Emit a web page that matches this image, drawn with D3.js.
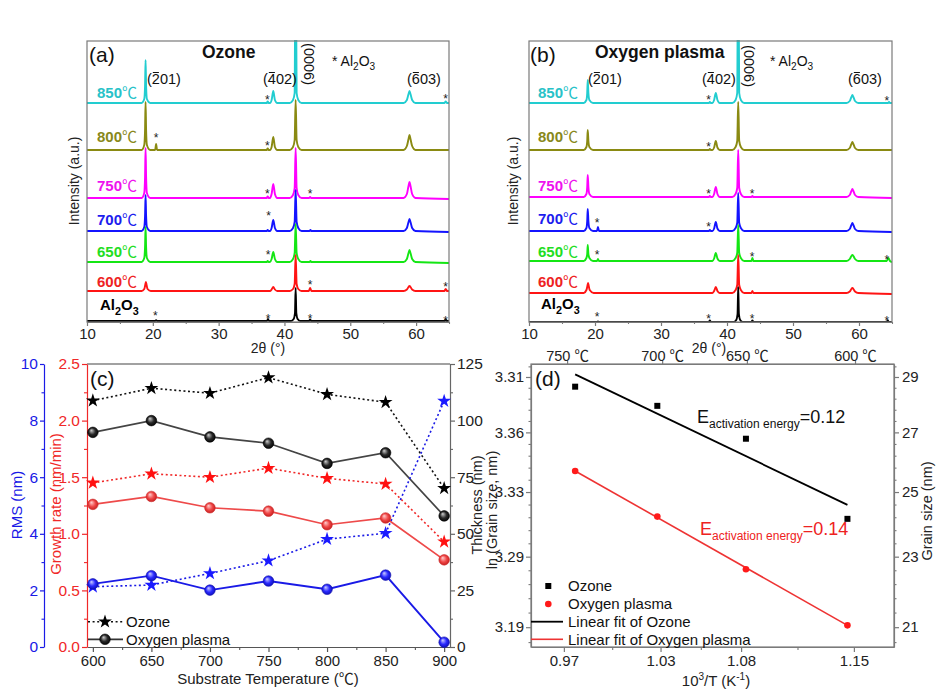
<!DOCTYPE html>
<html><head><meta charset="utf-8">
<script src="https://cdn.jsdelivr.net/npm/d3@7"></script>
<style>
body{margin:0;background:#fff}
svg{display:block}
text{font-family:Arial,"Liberation Sans","Noto Sans CJK SC",sans-serif}
</style>
</head><body>
<svg id="fig" width="945" height="699"></svg>
<script>
// ---------------- DATA ----------------
const sampleNames = ["Al2O3","600℃","650℃","700℃","750℃","800℃","850℃"];
const sampleColors = ["#000000","#ff1414","#14e614","#1414ff","#ff00ff","#8a8a12","#22cdd0"];
const labelColors  = ["#000000","#ee2222","#22dd22","#1c1cee","#ee11ee","#88881a","#28c2c8"];
const xrdTicks = [10,20,30,40,50,60];
const xrdMinor = [15,25,35,45,55,65];
const ozoneOffsets  = [1,31,60,91,124,172,219];
const plasmaOffsets = [0,29,61,91,125,172,219];

// Ozone XRD patterns: [2theta, intensity a.u.]
const OZ_AL  = [[10,0],[20.35,0],[20.5,0.8],[20.65,0],[37.35,0],[37.5,2],[37.65,0],[41.0,0],[41.4,2],[41.6,8],[41.7,33],[41.8,8],[42.0,2],[42.4,0],[43.75,0],[43.9,1.5],[44.05,0],[64.35,0],[64.5,1.5],[64.65,0],[65,0]];
const OZ_600 = [[10,0],[18.3,0],[18.7,2],[18.85,6],[18.95,9],[19.05,6],[19.2,2],[19.7,0],[37.8,0],[38.05,1.5],[38.3,4],[38.55,1.5],[38.9,0],[40.8,0],[41.3,2],[41.55,7],[41.7,36],[41.85,7],[42.1,2],[42.6,0],[43.7,0],[43.9,3],[44.1,0],[58.1,0],[58.6,1.5],[59.0,5],[59.4,1.5],[59.9,0],[64.3,0],[64.5,2],[64.7,0],[65,0]];
const OZ_650 = [[10,0],[18.3,0],[18.7,4],[18.82,15],[18.9,35],[18.98,15],[19.1,4],[19.6,0],[37.3,0],[37.45,1],[37.6,0],[37.8,0],[38.05,3],[38.3,10],[38.55,3],[38.9,0],[40.8,0],[41.3,3],[41.55,9],[41.7,38],[41.85,9],[42.1,3],[42.6,0],[43.8,0],[43.95,1],[44.1,0],[58.1,0],[58.6,3],[58.85,9],[59.0,12],[59.15,9],[59.4,3],[59.9,0],[65,-1]];
const OZ_700 = [[10,0],[18.3,0],[18.7,4],[18.82,15],[18.9,36],[18.98,15],[19.1,4],[19.6,0],[37.3,0],[37.45,1],[37.6,0],[37.8,0],[38.05,3],[38.3,11],[38.55,3],[38.9,0],[40.8,0],[41.3,3],[41.55,9],[41.7,41],[41.85,9],[42.1,3],[42.6,0],[43.8,0],[43.95,1],[44.1,0],[58.1,0],[58.6,3],[58.85,9],[59.0,12],[59.15,9],[59.4,3],[59.9,0],[65,-1]];
const OZ_750 = [[10,0],[18.3,0],[18.7,5],[18.82,21],[18.9,50],[18.98,21],[19.1,5],[19.6,0],[37.3,0],[37.45,1.5],[37.6,0],[37.8,0],[38.05,4],[38.3,14],[38.55,4],[38.9,0],[40.8,0],[41.3,3],[41.55,10],[41.7,50],[41.85,10],[42.1,3],[42.6,0],[43.75,0],[43.9,1],[44.05,0],[58.1,0],[58.6,4],[58.85,12],[59.0,16],[59.15,12],[59.4,4],[59.9,0],[65,-1]];
const OZ_800 = [[10,0],[18.3,0],[18.7,5],[18.82,20],[18.9,48],[18.98,20],[19.1,5],[19.6,0],[20.35,0],[20.5,6],[20.65,0],[37.3,0],[37.45,1.5],[37.6,0],[37.8,0],[38.05,3],[38.3,13],[38.55,3],[38.9,0],[40.8,0],[41.3,3],[41.55,10],[41.7,50],[41.85,10],[42.1,3],[42.6,0],[58.1,0],[58.6,4],[58.85,11],[59.0,15],[59.15,11],[59.4,4],[59.9,0],[65,0]];
const OZ_850 = [[10,0],[18.3,0],[18.7,4],[18.82,17],[18.9,43],[18.98,17],[19.1,4],[19.6,0],[37.3,0],[37.45,1.5],[37.6,0],[37.8,0],[38.05,3],[38.3,12],[38.55,3],[38.9,0],[40.8,0],[41.3,3],[41.55,10],[41.65,120],[41.75,120],[41.85,10],[42.1,3],[42.6,0],[58.1,0],[58.6,3],[58.85,9],[59.0,12],[59.15,9],[59.4,3],[59.9,0],[64.3,0],[64.5,1.5],[64.7,0],[65,0]];

// Oxygen plasma XRD patterns
const PL_AL  = [[10,0],[20.3,0],[20.45,0.6],[20.6,0],[37.25,0],[37.4,1.5],[37.55,0],[41.0,0],[41.4,2],[41.6,8],[41.7,35],[41.8,8],[42.0,2],[42.4,0],[43.7,0],[43.85,1.5],[44.0,0],[64.2,0],[64.35,1.5],[64.5,0],[65,0]];
const PL_600 = [[10,0],[18.3,0],[18.7,3],[18.85,7],[18.95,10],[19.05,7],[19.2,3],[19.8,0],[37.8,0],[38.05,2],[38.3,6],[38.55,2],[38.9,0],[40.8,0],[41.3,3],[41.55,8],[41.7,38],[41.85,8],[42.1,3],[42.6,0],[43.7,0],[43.85,2],[44.0,0],[58.1,0],[58.6,1.5],[58.85,4],[59.0,5],[59.15,4],[59.4,1.5],[59.9,0],[65,-1]];
const PL_650 = [[10,0],[18.3,0],[18.7,3],[18.82,7],[18.9,16],[19.0,7],[19.15,3],[19.7,0],[20.3,0],[20.45,2],[20.6,0],[37.8,0],[38.05,2.5],[38.3,8],[38.55,2.5],[38.9,0],[40.8,0],[41.3,3],[41.55,8],[41.7,36],[41.85,8],[42.1,3],[42.6,0],[43.7,0],[43.85,3],[44.0,0],[58.1,0],[58.6,2],[58.85,5],[59.0,6],[59.15,5],[59.4,2],[59.9,0],[64.2,0],[64.45,3],[64.7,0],[65,-1]];
const PL_700 = [[10,0],[18.3,0],[18.7,3],[18.82,10],[18.9,22],[19.0,10],[19.15,3],[19.7,0],[20.3,0],[20.45,4],[20.6,0],[37.25,0],[37.4,1],[37.55,0],[37.8,0],[38.05,2.5],[38.3,9],[38.55,2.5],[38.9,0],[40.8,0],[41.3,3],[41.55,8],[41.7,38],[41.85,8],[42.1,3],[42.6,0],[58.1,0],[58.6,2],[58.85,6],[59.0,8],[59.15,6],[59.4,2],[59.9,0],[65,-1]];
const PL_750 = [[10,0],[18.3,0],[18.7,3],[18.82,10],[18.9,22],[19.0,10],[19.15,3],[19.7,0],[37.25,0],[37.4,1],[37.55,0],[37.8,0],[38.05,3],[38.3,10],[38.55,3],[38.9,0],[40.8,0],[41.3,3],[41.55,9],[41.7,47],[41.85,9],[42.1,3],[42.6,0],[43.7,0],[43.85,1],[44.0,0],[58.1,0],[58.6,2],[58.85,6],[59.0,8],[59.15,6],[59.4,2],[59.9,0],[65,-1]];
const PL_800 = [[10,0],[18.3,0],[18.7,3],[18.82,9],[18.9,20],[19.0,9],[19.15,3],[19.7,0],[37.25,0],[37.4,1],[37.55,0],[37.8,0],[38.05,2.5],[38.3,9],[38.55,2.5],[38.9,0],[40.8,0],[41.3,3],[41.55,9],[41.7,48],[41.85,9],[42.1,3],[42.6,0],[58.1,0],[58.6,2],[58.85,6],[59.0,8],[59.15,6],[59.4,2],[59.9,0],[65,0]];
const PL_850 = [[10,0],[18.3,0],[18.7,3],[18.82,10],[18.9,23],[19.0,10],[19.15,3],[19.7,0],[37.25,0],[37.4,1],[37.55,0],[37.8,0],[38.05,3],[38.3,10],[38.55,3],[38.9,0],[40.8,0],[41.3,3],[41.55,10],[41.65,120],[41.75,120],[41.85,10],[42.1,3],[42.6,0],[58.1,0],[58.6,2],[58.85,6],[59.0,8],[59.15,6],[59.4,2],[59.9,0],[64.4,0],[64.55,1],[64.7,0],[65,0]];

// Al2O3 substrate marks "*": [2theta, level]
const ozoneStars  = [[37.4,224.7],[64.5,226.3],[20.5,187],[37.4,178.7],[37.4,131.3],[43.9,131.3],[37.6,108.7],[37.5,70.3],[43.9,40.3],[64.5,38],[20.4,8.7],[37.5,6.3],[43.9,6.3],[64.5,4.3]];
const plasmaStars = [[37.2,224.7],[64.2,224.3],[37.2,178],[37.2,131],[43.8,131],[20.3,102],[37.2,98],[20.3,70.3],[43.8,68],[64.2,64.7],[20.3,8],[37.2,6.3],[43.8,6.3],[64.2,4.3]];

// Panel (c)
const temps = [600,650,700,750,800,850,900];
const tempTicks = [600,650,700,750,800,850,900];
const thickOzone  = [108.8,114.3,112.1,119.0,111.6,108.1,70.1];
const thickPlasma = [94.8,100.0,92.8,90.0,81.1,85.8,57.9];
const rateOzone   = [1.45,1.53,1.50,1.58,1.49,1.44,0.93];
const ratePlasma  = [1.26,1.33,1.23,1.20,1.08,1.14,0.77];
const rmsOzone    = [2.13,2.19,2.60,3.05,3.81,4.02,8.69];
const rmsPlasma   = [2.23,2.52,2.01,2.33,2.04,2.54,0.17];
const rateTicks = [0,0.5,1.0,1.5,2.0,2.5];
const rmsTicks = [0,2,4,6,8,10];
const thickTicks = [0,25,50,75,100,125];

// Panel (d)
const invT = [0.977,1.028,1.083,1.146];
const grainOzone  = [28.64,27.94,26.78,24.15];
const grainPlasma = [25.69,24.22,22.63,21.05];
const fitX = [0.977,1.146];
const fitOzone  = [29.10,24.59];
const fitPlasma = [25.69,21.05];
const activation = ["0.12","0.14"];
const invTTicks = [0.97,1.03,1.08,1.15];
const invTMinor = [1.0,1.055,1.115];
const topTickVals = [0.972,1.031,1.0836,1.1507];
const topTickLabels = ["750 ℃","700 ℃","650 ℃","600 ℃"];
const grainTicks = [21,23,25,27,29];
const lnLabels = ["3.19","3.29","3.33","3.36","3.31"];

// ---------------- DRAW ----------------
const svg = d3.select("#fig");
const defs = svg.append("defs");
const FRAME = "#7a7a7a";
const CJK = "'Noto Sans CJK SC','Noto Sans CJK JP',sans-serif";

function cjkify(sel){
  sel.each(function(){
    const t = d3.select(this);
    const s = t.text();
    if (!s.includes("℃")) return;
    t.text(null);
    s.split(/(℃)/).forEach(p => {
      if (!p) return;
      const ts = t.append("tspan").text(p);
      if (p === "℃") ts.style("font-family", CJK).style("font-weight","normal");
    });
  });
}

function styleAxis(g, color, fs){
  g.attr("font-family", null).attr("font-size", null);
  g.selectAll("path.domain").attr("stroke", color).attr("stroke-width", 1.2);
  g.selectAll(".tick line").attr("stroke", color).attr("stroke-width", 1.2);
  g.selectAll(".tick text").attr("fill", color).style("font-size", fs + "px");
  return g;
}
function minorAxis(g, axis, color){
  g.call(axis.tickFormat(""));
  g.select("path.domain").remove();
  g.selectAll(".tick line").attr("stroke", color).attr("stroke-width", 1.1);
}

function miller(x, y, txt, barIdx){
  const t = svg.append("text").attr("x", x).attr("y", y).style("font-size","14.5px").attr("fill","#111").text(txt);
  const b = t.node().getExtentOfChar(barIdx);
  svg.append("line").attr("x1", b.x + 1).attr("x2", b.x + b.width - 1)
    .attr("y1", b.y + 1.5).attr("y2", b.y + 1.5).attr("stroke","#111").attr("stroke-width",1);
}

function subLabel(x, y, parts, opts){
  const t = svg.append("text").attr("x", x).attr("y", y).attr("fill", opts.color)
    .style("font-size", opts.fs + "px").style("font-weight", opts.bold ? "bold" : "normal");
  parts.forEach(p => {
    const s = t.append("tspan").text(p[0]);
    if (p[1] === "sub") s.attr("dy", opts.fs*0.3).style("font-size", (opts.fs*0.72)+"px");
    else if (p[1] === "back") s.attr("dy", -opts.fs*0.3);
  });
  return t;
}

function xrdPanel(box, curves, offsets, stars, lab, tag){
  const x = d3.scaleLinear().domain([10,65]).range([box.x0, box.x1]);
  const y = d3.scaleLinear().domain([0,281]).range([box.y1, box.y0]);
  defs.append("clipPath").attr("id","clip"+tag).append("rect")
    .attr("x", box.x0).attr("y", box.y0 - 1).attr("width", box.x1 - box.x0).attr("height", box.y1 - box.y0 + 1);
  for (let i = curves.length - 1; i >= 0; i--){
    const line = d3.line().x(d => x(d[0])).y(d => y(d[1] + offsets[i])).curve(d3.curveMonotoneX);
    svg.append("path").attr("clip-path","url(#clip"+tag+")").attr("d", line(curves[i]))
      .attr("fill","none").attr("stroke", sampleColors[i]).attr("stroke-width", 1.9).attr("stroke-linejoin","round");
  }
  svg.append("rect").attr("x", box.x0).attr("y", box.y0).attr("width", box.x1 - box.x0).attr("height", box.y1 - box.y0)
    .attr("fill","none").attr("stroke", FRAME).attr("stroke-width", 1.2);
  const gx = svg.append("g").attr("transform", `translate(0,${box.y1})`)
    .call(d3.axisBottom(x).tickValues(xrdTicks).tickSize(4).tickSizeOuter(0).tickPadding(2));
  styleAxis(gx, "#222", 15); gx.select("path.domain").attr("stroke", FRAME);
  gx.selectAll(".tick line").attr("stroke", FRAME);
  const gm = svg.append("g").attr("transform", `translate(0,${box.y1})`);
  minorAxis(gm, d3.axisBottom(x).tickValues(xrdMinor).tickSize(2), FRAME);
  stars.forEach(s => {
    svg.append("text").attr("x", x(s[0])).attr("y", y(s[1]) + 7).attr("text-anchor","middle")
      .style("font-size","12px").attr("fill","#222").text("*");
  });
  sampleNames.forEach((n, i) => {
    if (i === 0) {
      subLabel(lab.alx, lab.ys[0], [["Al"],["2","sub"],["O","back"],["3","sub"]], {color:"#000", fs:15, bold:true});
    } else {
      svg.append("text").attr("x", lab.x).attr("y", lab.ys[i]).attr("fill", labelColors[i])
        .style("font-size","15px").style("font-weight","bold").text(n).call(cjkify);
    }
  });
  svg.append("text").attr("transform", `translate(${lab.ytx},${181}) rotate(-90)`).attr("text-anchor","middle")
    .style("font-size","14px").attr("fill","#222").text("Intensity (a.u.)");
  svg.append("text").attr("x", lab.xtx).attr("y", 353).attr("text-anchor","middle")
    .style("font-size","14px").attr("fill","#222").text("2θ (°)");
  return {x, y};
}

// Panel (a)
const A = {x0:87, x1:449, y0:41, y1:322};
xrdPanel(A, [OZ_AL,OZ_600,OZ_650,OZ_700,OZ_750,OZ_800,OZ_850], ozoneOffsets, ozoneStars,
  {x:97, alx:100, ys:[310,286.7,257.3,225,190.7,141.7,98.3], ytx:79, xtx:268}, "a");
svg.append("text").attr("x",89).attr("y",62).style("font-size","21px").attr("fill","#111").text("(a)");
svg.append("text").attr("x",202).attr("y",58).style("font-size","17.5px").style("font-weight","bold").attr("fill","#111").text("Ozone");
subLabel(332, 66, [["* Al"],["2","sub"],["O","back"],["3","sub"]], {color:"#111", fs:14, bold:false});
miller(147, 84, "(201)", 1);
miller(263, 84, "(402)", 1);
miller(407, 84, "(603)", 1);
svg.append("text").attr("transform","translate(309,64) rotate(90)").attr("text-anchor","middle")
  .attr("dominant-baseline","central").style("font-size","14.5px").attr("fill","#111").text("(0006)");

// Panel (b)
const B = {x0:529, x1:892, y0:41, y1:322};
xrdPanel(B, [PL_AL,PL_600,PL_650,PL_700,PL_750,PL_800,PL_850], plasmaOffsets, plasmaStars,
  {x:538, alx:541, ys:[309.3,286.7,257.3,224.3,190.7,141.7,98.3], ytx:518, xtx:709}, "b");
svg.append("text").attr("x",530).attr("y",62).style("font-size","21px").attr("fill","#111").text("(b)");
svg.append("text").attr("x",595).attr("y",58).style("font-size","17.5px").style("font-weight","bold").attr("fill","#111").text("Oxygen plasma");
subLabel(770, 66, [["* Al"],["2","sub"],["O","back"],["3","sub"]], {color:"#111", fs:14, bold:false});
miller(588, 84, "(201)", 1);
miller(702, 84, "(402)", 1);
miller(848, 84, "(603)", 1);
svg.append("text").attr("transform","translate(749,66) rotate(90)").attr("text-anchor","middle")
  .attr("dominant-baseline","central").style("font-size","14.5px").attr("fill","#111").text("(0006)");

// Panel (c)
const C = {x0:87, x1:450, y0:364, y1:647};
const xC = d3.scaleLinear().domain([595,905]).range([C.x0, C.x1]);
const yRate = d3.scaleLinear().domain([0,2.5]).range([C.y1, C.y0]);
const yRMS = d3.scaleLinear().domain([0,10]).range([C.y1, C.y0]);
const yThk = d3.scaleLinear().domain([0,125]).range([C.y1, C.y0]);
const RED = "#f02828", BLUE = "#1a1ae6";

function sphereGrad(id, c0, c1, c2){
  const g = defs.append("radialGradient").attr("id", id).attr("cx","50%").attr("cy","50%").attr("r","55%").attr("fx","35%").attr("fy","30%");
  g.append("stop").attr("offset","0%").attr("stop-color", c0);
  g.append("stop").attr("offset","55%").attr("stop-color", c1);
  g.append("stop").attr("offset","100%").attr("stop-color", c2);
}
sphereGrad("gk","#d0d0d0","#2a2a2a","#000");
sphereGrad("gr","#ffd0d0","#f04848","#c01818");
sphereGrad("gb","#d0d0ff","#2a2aff","#0c0cb0");

svg.append("line").attr("x1",C.x0).attr("x2",C.x1).attr("y1",C.y0).attr("y2",C.y0).attr("stroke","#444").attr("stroke-width",1.2);
let g;
g = svg.append("g").attr("transform",`translate(0,${C.y1})`).call(d3.axisBottom(xC).tickValues(tempTicks).tickSize(5).tickSizeOuter(0).tickPadding(3));
styleAxis(g, "#222", 15); g.select("path.domain").attr("stroke","#555"); g.selectAll(".tick line").attr("stroke","#555");
minorAxis(svg.append("g").attr("transform",`translate(0,${C.y1})`), d3.axisBottom(xC).tickValues([625,675,725,775,825,875]).tickSize(3), "#555");

g = svg.append("g").attr("transform",`translate(${C.x0},0)`).call(d3.axisLeft(yRate).tickValues(rateTicks).tickFormat(d3.format(".1f")).tickSize(5).tickSizeOuter(0).tickPadding(2));
styleAxis(g, RED, 15.5);
minorAxis(svg.append("g").attr("transform",`translate(${C.x0},0)`), d3.axisLeft(yRate).tickValues([0.25,0.75,1.25,1.75,2.25]).tickSize(3), RED);

g = svg.append("g").attr("transform",`translate(44,0)`).call(d3.axisLeft(yRMS).tickValues(rmsTicks).tickSize(4).tickSizeOuter(0).tickPadding(2));
styleAxis(g, BLUE, 15.5);
minorAxis(svg.append("g").attr("transform",`translate(44,0)`), d3.axisLeft(yRMS).tickValues([1,3,5,7,9]).tickSize(2.5), BLUE);

g = svg.append("g").attr("transform",`translate(${C.x1},0)`).call(d3.axisRight(yThk).tickValues(thickTicks).tickSize(5).tickSizeOuter(0).tickPadding(2));
styleAxis(g, "#222", 15.5); g.select("path.domain").attr("stroke","#666"); g.selectAll(".tick line").attr("stroke","#666");
minorAxis(svg.append("g").attr("transform",`translate(${C.x1},0)`), d3.axisRight(yThk).tickValues([12.5,37.5,62.5,87.5,112.5]).tickSize(3), "#666");

function seriesLine(vals, yS, color, dotted, width){
  const line = d3.line().x((d,i) => xC(temps[i])).y(d => yS(d));
  svg.append("path").attr("d", line(vals)).attr("fill","none").attr("stroke", color)
    .attr("stroke-width", width).attr("stroke-dasharray", dotted ? "2,2.6" : null);
}
const starSym = d3.symbol(d3.symbolStar, 60);
function starMarks(vals, yS, color){
  vals.forEach((v,i) => svg.append("path").attr("d", starSym()).attr("transform",`translate(${xC(temps[i])},${yS(v)})`).attr("fill", color));
}
function sphereMarks(vals, yS, grad, stroke){
  vals.forEach((v,i) => svg.append("circle").attr("cx", xC(temps[i])).attr("cy", yS(v)).attr("r",5.3)
    .attr("fill",`url(#${grad})`).attr("stroke", stroke).attr("stroke-width",0.6));
}
seriesLine(thickOzone, yThk, "#111", true, 1.6);
seriesLine(thickPlasma, yThk, "#444", false, 1.7);
seriesLine(rateOzone, yRate, RED, true, 1.6);
seriesLine(ratePlasma, yRate, "#ee4a4a", false, 1.7);
seriesLine(rmsOzone, yRMS, BLUE, true, 1.6);
seriesLine(rmsPlasma, yRMS, BLUE, false, 1.9);
starMarks(thickOzone, yThk, "#000");
starMarks(rateOzone, yRate, "#ff1010");
starMarks(rmsOzone, yRMS, "#1a1aff");
sphereMarks(thickPlasma, yThk, "gk", "#000");
sphereMarks(ratePlasma, yRate, "gr", "#d03030");
sphereMarks(rmsPlasma, yRMS, "gb", "#1010b0");

svg.append("text").attr("x",90).attr("y",386).style("font-size","21px").attr("fill","#111").text("(c)");
svg.append("line").attr("x1",88).attr("x2",123).attr("y1",621.7).attr("y2",621.7).attr("stroke","#111").attr("stroke-width",1.6).attr("stroke-dasharray","2,2.6");
svg.append("path").attr("d", starSym()).attr("transform","translate(105,621.7)").attr("fill","#000");
svg.append("text").attr("x",126).attr("y",627).style("font-size","15px").attr("fill","#111").text("Ozone");
svg.append("line").attr("x1",88).attr("x2",123).attr("y1",639.3).attr("y2",639.3).attr("stroke","#333").attr("stroke-width",1.7);
svg.append("circle").attr("cx",105).attr("cy",639.3).attr("r",5.3).attr("fill","url(#gk)").attr("stroke","#000").attr("stroke-width",0.6);
svg.append("text").attr("x",126).attr("y",645).style("font-size","15px").attr("fill","#111").text("Oxygen plasma");
svg.append("text").attr("x",268).attr("y",684).attr("text-anchor","middle").style("font-size","15px").attr("fill","#222").text("Substrate Temperature (℃)").call(cjkify);
svg.append("text").attr("transform","translate(22,505) rotate(-90)").attr("text-anchor","middle").style("font-size","15px").attr("fill",BLUE).text("RMS (nm)");
svg.append("text").attr("transform","translate(61,504) rotate(-90)").attr("text-anchor","middle").style("font-size","15px").attr("fill",RED).text("Growth rate (nm/min)");
svg.append("text").attr("transform","translate(482,505) rotate(-90)").attr("text-anchor","middle").style("font-size","14.5px").attr("fill","#222").text("Thickness (nm)");

// Panel (d)
const D = {x0:531, x1:894, y0:364, y1:647};
const xD = d3.scaleLinear().domain([0.9496,1.1749]).range([D.x0, D.x1]);
const yD = d3.scaleLog().domain([20.47,29.49]).range([D.y1, D.y0]);
svg.append("rect").attr("x",D.x0).attr("y",D.y0).attr("width",D.x1-D.x0).attr("height",D.y1-D.y0).attr("fill","none").attr("stroke",FRAME).attr("stroke-width",1.2);
g = svg.append("g").attr("transform",`translate(0,${D.y1})`).call(d3.axisBottom(xD).tickValues(invTTicks).tickFormat(d3.format(".2f")).tickSize(5).tickSizeOuter(0).tickPadding(3));
styleAxis(g, "#222", 15); g.select("path.domain").attr("stroke",FRAME); g.selectAll(".tick line").attr("stroke",FRAME);
minorAxis(svg.append("g").attr("transform",`translate(0,${D.y1})`), d3.axisBottom(xD).tickValues(invTMinor).tickSize(3), FRAME);
g = svg.append("g").attr("transform",`translate(0,${D.y0})`).call(d3.axisTop(xD).tickValues(topTickVals).tickFormat((d,i)=>topTickLabels[i]).tickSize(3).tickSizeOuter(0).tickPadding(0));
styleAxis(g, "#222", 14.5); g.select("path.domain").attr("stroke",FRAME); g.selectAll(".tick line").attr("stroke",FRAME);
g.selectAll(".tick text").call(cjkify);
const grainMinor = d3.range(20.6, 29.45, 0.4).filter(v => Math.abs(v - Math.round(v)) > 0.05 || Math.round(v) % 2 === 0);
g = svg.append("g").attr("transform",`translate(${D.x0},0)`).call(d3.axisLeft(yD).tickValues(grainTicks).tickFormat((d,i)=>lnLabels[i]).tickSize(5).tickSizeOuter(0).tickPadding(2));
styleAxis(g, "#222", 15); g.select("path.domain").attr("stroke",FRAME); g.selectAll(".tick line").attr("stroke",FRAME);
minorAxis(svg.append("g").attr("transform",`translate(${D.x0},0)`), d3.axisLeft(yD).tickValues(grainMinor).tickSize(2.5), FRAME);
g = svg.append("g").attr("transform",`translate(${D.x1},0)`).call(d3.axisRight(yD).tickValues(grainTicks).tickFormat(d3.format("d")).tickSize(5).tickSizeOuter(0).tickPadding(3));
styleAxis(g, "#222", 15); g.select("path.domain").attr("stroke",FRAME); g.selectAll(".tick line").attr("stroke",FRAME);
minorAxis(svg.append("g").attr("transform",`translate(${D.x1},0)`), d3.axisRight(yD).tickValues(grainMinor).tickSize(2.5), FRAME);

const fitLine = d3.line().x((d,i)=>xD(fitX[i])).y(d=>yD(d));
svg.append("path").attr("d", fitLine(fitOzone)).attr("stroke","#000").attr("stroke-width",1.8).attr("fill","none");
svg.append("path").attr("d", fitLine(fitPlasma)).attr("stroke","#ee3333").attr("stroke-width",1.6).attr("fill","none");
grainOzone.forEach((v,i)=> svg.append("rect").attr("x", xD(invT[i])-3).attr("y", yD(v)-3).attr("width",6).attr("height",6).attr("fill","#000"));
grainPlasma.forEach((v,i)=> svg.append("circle").attr("cx", xD(invT[i])).attr("cy", yD(v)).attr("r",3.3).attr("fill","#ff1a1a"));

svg.append("text").attr("x",535).attr("y",386).style("font-size","21px").attr("fill","#111").text("(d)");
function eLabel(x, y, color, val){
  const t = svg.append("text").attr("x",x).attr("y",y).attr("fill",color).style("font-size","18px");
  t.append("tspan").text("E");
  t.append("tspan").attr("dy",4.5).style("font-size","12px").text("activation energy");
  t.append("tspan").attr("dy",-4.5).text("=" + val);
}
eLabel(697, 423, "#111", activation[0]);
eLabel(700, 535, "#ee2222", activation[1]);
svg.append("rect").attr("x",545.3).attr("y",583).attr("width",6).attr("height",6).attr("fill","#000");
svg.append("text").attr("x",568).attr("y",591).style("font-size","15px").attr("fill","#111").text("Ozone");
svg.append("circle").attr("cx",548.3).attr("cy",604).attr("r",3.3).attr("fill","#ff1a1a");
svg.append("text").attr("x",568).attr("y",609).style("font-size","15px").attr("fill","#111").text("Oxygen plasma");
svg.append("line").attr("x1",531).attr("x2",563).attr("y1",621.7).attr("y2",621.7).attr("stroke","#000").attr("stroke-width",1.8);
svg.append("text").attr("x",568).attr("y",627).style("font-size","15px").attr("fill","#111").text("Linear fit of Ozone");
svg.append("line").attr("x1",531).attr("x2",563).attr("y1",639.3).attr("y2",639.3).attr("stroke","#ee3333").attr("stroke-width",1.6);
svg.append("text").attr("x",568).attr("y",645).style("font-size","15px").attr("fill","#111").text("Linear fit of Oxygen plasma");
const bt = svg.append("text").attr("x",716).attr("y",686).attr("text-anchor","middle").style("font-size","15px").attr("fill","#222");
bt.append("tspan").text("10");
bt.append("tspan").attr("dy",-6).style("font-size","10px").text("3");
bt.append("tspan").attr("dy",6).text("/T (K");
bt.append("tspan").attr("dy",-6).style("font-size","10px").text("-1");
bt.append("tspan").attr("dy",6).text(")");
svg.append("text").attr("transform","translate(497,510) rotate(-90)").attr("text-anchor","middle").style("font-size","14.5px").attr("fill","#222").text("ln (Grain size, nm)");
svg.append("text").attr("transform","translate(932,511) rotate(-90)").attr("text-anchor","middle").style("font-size","14.5px").attr("fill","#222").text("Grain size (nm)");
</script>
</body></html>
